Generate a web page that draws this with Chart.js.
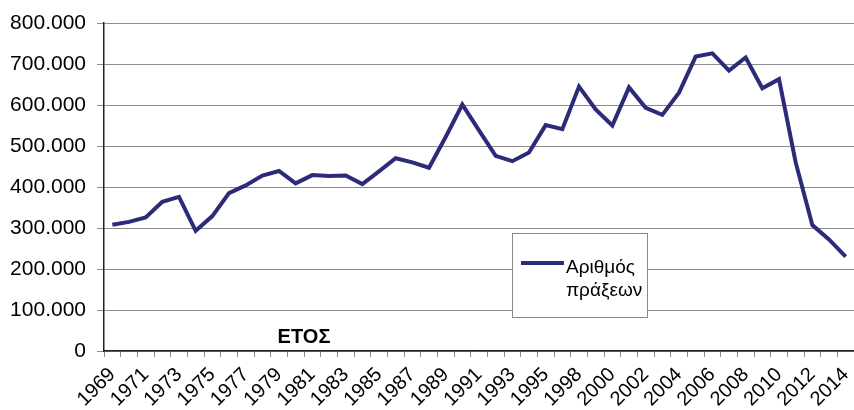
<!DOCTYPE html>
<html><head><meta charset="utf-8">
<script src="https://cdn.jsdelivr.net/npm/chart.js@4/dist/chart.umd.min.js"></script>
<style>html,body{margin:0;padding:0;background:#fff;overflow:hidden}#wrap{width:854px;height:410px;position:relative;overflow:hidden}</style>
</head><body><div id="wrap"><canvas id="c" width="854" height="410"></canvas></div>
<script>
const years = ['1969','1970','1971','1972','1973','1974','1975','1976','1977','1978','1979','1980','1981','1982','1983','1984','1985','1986','1987','1988','1989','1990','1991','1992','1993','1994','1995','1996','1998','1999','2000','2001','2002','2003','2004','2005','2006','2007','2008','2009','2010','2011','2012','2013','2014'];
const transactions = [308000,315000,326000,364000,376000,293000,329000,385000,404000,428000,439000,409000,429000,427000,428000,407000,438000,470000,460000,447000,522000,601000,538000,476000,463000,484000,551000,541000,645000,589000,550000,643000,593000,576000,630000,718000,726000,684000,716000,641000,663000,460000,307000,272000,230000];
const seriesLabel = ['Αριθμός', 'πράξεων'];
const axisTitle = 'ΕΤΟΣ';
const yTicks = [0,100000,200000,300000,400000,500000,600000,700000,800000];

const FONT = '"Liberation Sans", Arial, sans-serif';
const LINE_COLOR = '#2c2b78';

const overlay = {
  id: 'overlay',
  afterDraw(chart) {
    const ctx = chart.ctx;
    const a = chart.chartArea;
    ctx.save();
    ctx.font = 'bold 20px ' + FONT;
    ctx.fillStyle = '#000';
    ctx.textAlign = 'center';
    ctx.textBaseline = 'middle';
    ctx.fillText(axisTitle, a.left + 200, a.bottom - 14);
    const lx = a.left + 408, ly = a.top + 210, lw = 135, lh = 84;
    ctx.fillStyle = '#fff';
    ctx.fillRect(lx, ly, lw, lh);
    ctx.strokeStyle = '#8c8c8c';
    ctx.lineWidth = 1;
    ctx.strokeRect(lx + 0.5, ly + 0.5, lw, lh);
    ctx.strokeStyle = LINE_COLOR;
    ctx.lineWidth = 4;
    ctx.beginPath();
    ctx.moveTo(lx + 9, ly + 30);
    ctx.lineTo(lx + 52, ly + 30);
    ctx.stroke();
    ctx.fillStyle = '#000';
    ctx.font = '19px ' + FONT;
    ctx.textAlign = 'left';
    ctx.textBaseline = 'alphabetic';
    ctx.fillText(seriesLabel[0], lx + 54, ly + 40);
    ctx.fillText(seriesLabel[1], lx + 54, ly + 63);
    ctx.restore();
  }
};

new Chart(document.getElementById('c'), {
  type: 'line',
  data: {
    labels: years,
    datasets: [{
      label: seriesLabel.join(' '),
      data: transactions,
      borderColor: LINE_COLOR,
      backgroundColor: LINE_COLOR,
      borderWidth: 4,
      pointRadius: 0,
      tension: 0,
      fill: false
    }]
  },
  options: {
    responsive: false,
    animation: false,
    devicePixelRatio: 1,
    layout: { padding: { top: 23, right: -5.5, left: 0, bottom: 0 } },
    plugins: { legend: { display: false }, tooltip: { enabled: false } },
    scales: {
      x: {
        type: 'category',
        offset: true,
        border: { display: true, color: '#222', width: 1.5 },
        grid: { display: true, drawOnChartArea: false, drawTicks: true, tickLength: 6, color: '#8c8c8c', offset: true },
        ticks: {
          autoSkip: false,
          minRotation: 45, maxRotation: 45,
          padding: 6,
          color: '#000',
          font: { family: FONT, size: 20 },
          callback: function(v, i) { return i % 2 === 0 ? this.getLabelForValue(v) : ''; }
        },
        afterFit(s) { s.height = 59; s.paddingLeft = 0; s.paddingRight = 0; }
      },
      y: {
        min: 0, max: 800000,
        border: { display: true, color: '#222', width: 1.5 },
        grid: { color: '#8c8c8c', lineWidth: 1, drawTicks: true, tickLength: 7 },
        afterBuildTicks(s) { s.ticks = yTicks.map(v => ({ value: v })); },
        ticks: {
          padding: 11,
          color: '#000',
          font: { family: FONT, size: 21 },
          callback: v => v === 0 ? '0' : (v / 1000) + '.000'
        },
        afterFit(s) { s.width = 104; s.paddingTop = 0; s.paddingBottom = 0; }
      }
    }
  },
  plugins: [overlay]
});
</script>
</body></html>
